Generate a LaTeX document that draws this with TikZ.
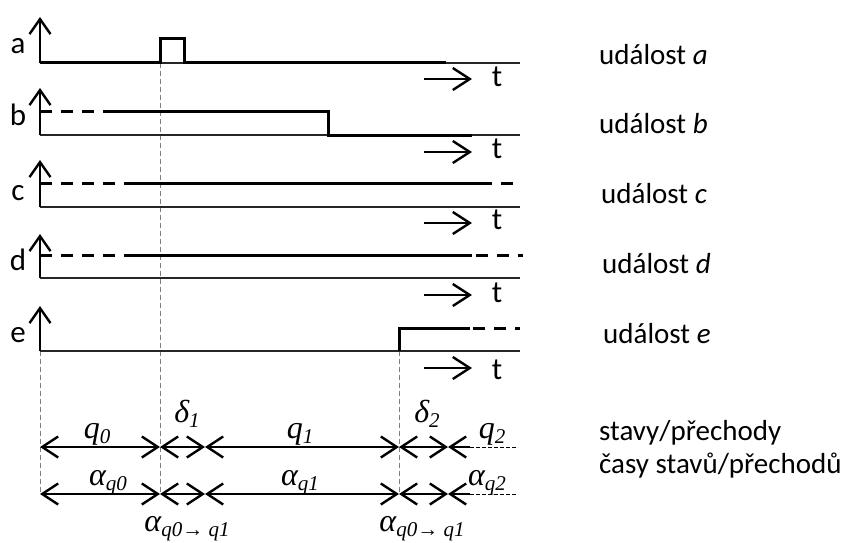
\documentclass[tikz,border=0pt]{standalone}
\usepackage{fontspec}
\setmainfont{Carlito}
\newfontfamily\mathserif{Liberation Serif}
\usetikzlibrary{arrows.meta}
\newcommand{\lsub}[1]{\raisebox{-0.18em}{\fontsize{21}{21}\selectfont #1}}
\tikzset{
  sig/.style={line width=3pt},
  axisline/.style={line width=1.4pt, draw=black!85},
  dsig/.style={line width=3pt, dash pattern=on 12pt off 9pt},
  vaxis/.style={line width=2.6pt, -{Straight Barb[length=15pt,width=21pt,line width=2.4pt]}},
  tarrow/.style={line width=2.4pt, -{Straight Barb[length=17pt,width=22pt,line width=2.4pt]}},
  guide/.style={gray, line width=1pt, dash pattern=on 5pt off 3pt},
  dim/.style={line width=2.6pt, {Straight Barb[length=16pt,width=21pt,line width=2.4pt]}-{Straight Barb[length=16pt,width=21pt,line width=2.4pt]}},
  dimL/.style={line width=2.6pt, {Straight Barb[length=16pt,width=21pt,line width=2.4pt]}-},
  thindash/.style={line width=1pt, dash pattern=on 4pt off 2pt},
  siglab/.style={font=\fontsize{31}{31}\selectfont, anchor=base},
  evlab/.style={font=\fontsize{29}{29}\selectfont, anchor=base west, inner sep=0pt},
  mlab/.style={font=\mathserif\itshape\fontsize{32}{32}\selectfont, anchor=base, inner sep=0pt},
}
\begin{document}
\begin{tikzpicture}[x=1pt,y=-1pt]
\useasboundingbox (0,0) rectangle (848,543);
% coordinates
\foreach \n/\y in {a/63,b/135,c/207,d/278,e/351}{
  \coordinate (o\n) at (40,\y);
  \coordinate (end\n) at (520,\y);
}
\coordinate (ta) at (40,17);
\coordinate (tb) at (40,88);
\coordinate (tc) at (40,160);
\coordinate (td) at (40,234);
\coordinate (te) at (40,306);
% guide lines
\coordinate (g0b) at (40,494);
\coordinate (g1t) at (160,63);
\coordinate (g1b) at (160,494);
\coordinate (g2t) at (399,351);
\coordinate (g2b) at (399,494);
\draw[guide] (oe) -- (g0b);
\draw[guide] (g1t) -- (g1b);
\draw[guide] (g2t) -- (g2b);
% axes
\foreach \n in {a,b,c,d,e}{
  \draw[axisline] (o\n) -- (end\n);
  \draw[vaxis] (o\n) -- (t\n);
}
% signal a
\coordinate (a1) at (446,63);
\draw[sig, line join=miter] (oa) -- (160,63) -- (160,39) -- (184,39) -- (184,63) -- (a1);
% signal b
\coordinate (b0) at (40,111);
\coordinate (b1) at (113,111);
\coordinate (b2) at (472,135);
\draw[dsig] (b0) -- (b1);
\draw[sig, line join=miter] (b1) -- (328,111) -- (328,135) -- (b2);
% signal c
\coordinate (c0) at (40,183);
\coordinate (c1) at (135,183);
\coordinate (c2) at (480,183);
\coordinate (c3) at (520,183);
\draw[dsig] (c0) -- (c1);
\draw[sig] (c1) -- (c2);
\draw[dsig] (c2) -- (c3);
% signal d
\coordinate (d0) at (40,255);
\coordinate (d1) at (136,255);
\coordinate (d2) at (472,255);
\coordinate (d3) at (523,255);
\draw[dsig] (d0) -- (d1);
\draw[sig] (d1) -- (d2);
\draw[dsig, dash phase=-4pt] (d2) -- (d3);
% signal e
\coordinate (e1) at (470,328);
\coordinate (e2) at (520,328);
\draw[sig, line join=miter] (g2t) -- (399,328) -- (e1);
\draw[dsig, dash phase=-3pt] (e1) -- (e2);
% signal labels
\node[siglab] (la) at (18,53) {a};
\node[siglab] (lb) at (18,125) {b};
\node[siglab] (lc) at (18,200) {c};
\node[siglab] (ld) at (18,270) {d};
\node[siglab] (le) at (18,342) {e};
% time arrows
\foreach \n/\y in {a/79,b/152,c/223,d/295,e/368}{
  \coordinate (ts\n) at (424,\y);
  \coordinate (te\n) at (472,\y);
  \draw[tarrow] (ts\n) -- (te\n);
}
\node[siglab] (tla) at (497,86) {t};
\node[siglab] (tlb) at (497,158) {t};
\node[siglab] (tlc) at (497,229) {t};
\node[siglab] (tld) at (497,302) {t};
\node[siglab] (tle) at (497,379) {t};
% event labels
\node[evlab] (ea) at (599,65) {událost \textit{a}};
\node[evlab] (eb) at (599,133) {událost \textit{b}};
\node[evlab] (ec) at (601,203) {událost \textit{c}};
\node[evlab] (ed) at (602,273) {událost \textit{d}};
\node[evlab] (ee) at (603,343) {událost \textit{e}};
\node[evlab] (st) at (599,440) {stavy/přechody};
\node[evlab] (ca) at (599,473) {časy stavů/přechodů};
% state row
\coordinate (s0) at (40,447);
\coordinate (s1) at (160,447);
\coordinate (s2) at (205,447);
\coordinate (s3) at (399,447);
\coordinate (s4) at (448,447);
\coordinate (s5) at (470,447);
\coordinate (s6) at (518,447);
\draw[dim] (s0) -- (s1);
\draw[dim] (s1) -- (s2);
\draw[dim] (s2) -- (s3);
\draw[dim] (s3) -- (s4);
\draw[dimL] (s4) -- (s5);
\draw[thindash] (s5) -- (s6);
% time row
\coordinate (r0) at (40,494);
\coordinate (r1) at (160,494);
\coordinate (r2) at (205,494);
\coordinate (r3) at (399,494);
\coordinate (r4) at (448,494);
\coordinate (r5) at (470,494);
\coordinate (r6) at (518,494);
\draw[dim] (r0) -- (r1);
\draw[dim] (r1) -- (r2);
\draw[dim] (r2) -- (r3);
\draw[dim] (r3) -- (r4);
\draw[dimL] (r4) -- (r5);
\draw[thindash] (r5) -- (r6);
% math labels
\node[mlab] (q0) at (97,438) {q\lsub{0}};
\node[mlab] (d1l) at (187,422) {δ\lsub{1}};
\node[mlab] (q1) at (300,438) {q\lsub{1}};
\node[mlab] (d2l) at (427,422) {δ\lsub{2}};
\node[mlab] (q2) at (492,438) {q\lsub{2}};
\node[mlab] (aq0) at (108,485) {α\lsub{q0}};
\node[mlab] (aq1) at (300,485) {α\lsub{q1}};
\node[mlab] (aq2) at (487,485) {α\lsub{q2}};
\node[mlab] (t01) at (187,531) {α\lsub{q0→ q1}};
\node[mlab] (t12) at (422,531) {α\lsub{q0→ q1}};
\end{tikzpicture}
\end{document}
